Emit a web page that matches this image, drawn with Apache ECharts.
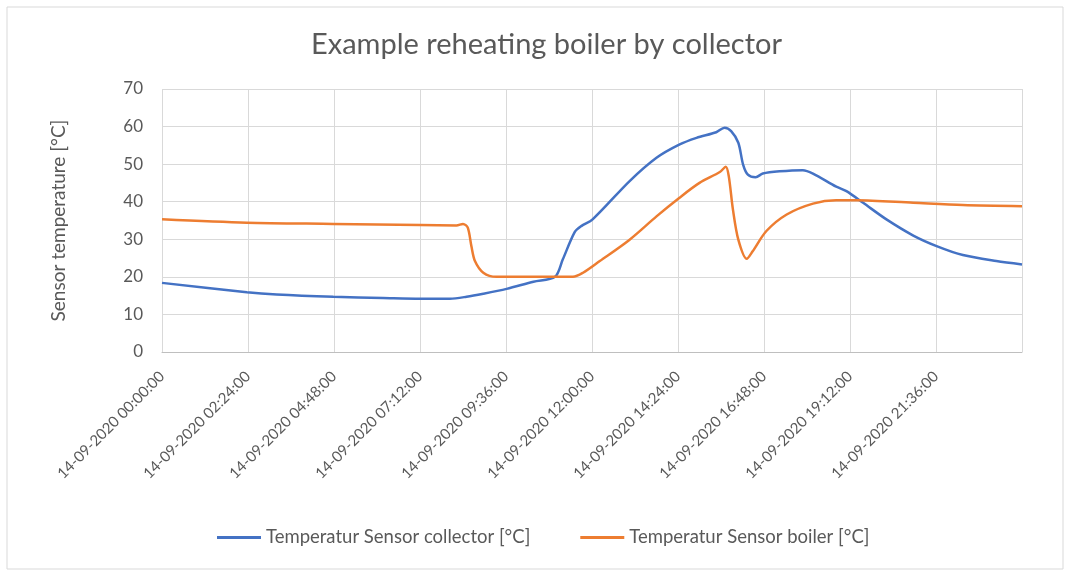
<!DOCTYPE html>
<html>
<head>
  <meta charset="utf-8">
  <title>Example reheating boiler by collector</title>
  <style>
    body { margin: 0; background: #fff; }
    #main { width: 1070px; height: 574px; }
  </style>
</head>
<body>
<div id="main"></div>
<script src="https://cdn.jsdelivr.net/npm/echarts@6/dist/echarts.min.js"></script>
<script>
// times of day (HH:MM) and temperatures
var collectorTimes = ["00:00","02:22","03:12","04:47","06:10","07:12","08:02","08:30","08:58","09:37","10:22","10:58","11:11","11:31","11:42","12:01","13:03","13:48","14:26","14:55","15:28","15:42","15:53","16:05","16:13","16:21","16:34","16:46","17:14","17:53","18:10","18:49","19:06","19:34","20:13","20:58","21:37","22:21","23:17","24:00"];
var collectorTemps = [18.4,15.9,15.3,14.7,14.4,14.2,14.2,14.7,15.5,16.8,18.7,20.0,24.6,31.9,33.5,35.3,45.5,51.7,55.2,57.0,58.5,59.7,58.8,55.7,49.9,47.2,46.5,47.5,48.1,48.4,47.5,44.0,42.8,39.7,35.3,31.0,28.2,25.8,24.2,23.3];

var boilerTimes = ["00:00","02:22","04:47","07:12","08:13","08:24","08:32","08:38","08:44","08:58","09:20","11:28","11:45","12:13","13:03","13:48","14:26","15:00","15:34","15:44","15:49","15:56","16:05","16:19","16:29","16:52","17:26","18:10","18:49","19:23","20:58","22:21","24:00"];
var boilerTemps = [35.3,34.4,34.1,33.8,33.7,34.1,33.1,28.2,24.2,21.1,20.0,20.0,21.1,24.2,29.9,36.1,41.0,45.0,47.9,49.3,46.8,37.9,29.9,24.8,26.8,32.2,36.6,39.5,40.4,40.4,39.7,39.1,38.8];

var dateLabel = "14-09-2020";

function toMinutes(t) {
  var p = t.split(":");
  return Number(p[0]) * 60 + Number(p[1]);
}
function pairs(times, temps) {
  var out = [];
  for (var i = 0; i < times.length; i++) {
    out.push([toMinutes(times[i]), temps[i]]);
  }
  return out;
}
function pad(n) { return (n < 10 ? "0" : "") + n; }

var chart = echarts.init(document.getElementById("main"));
var textColor = "#595959";
var font = "Lato, 'Noto Sans', sans-serif";

chart.setOption({
  animation: false,
  textStyle: { fontFamily: font },
  graphic: [{
    type: "rect",
    shape: { x: 7, y: 7, width: 1056, height: 562 },
    style: { fill: "none", stroke: "#d9d9d9", lineWidth: 1 }
  }],
  title: {
    text: "Example reheating boiler by collector",
    left: 306,
    top: 25,
    textStyle: { fontSize: 29, fontWeight: "normal", color: textColor, fontFamily: font }
  },
  legend: {
    bottom: 22,
    left: 212,
    icon: "rect",
    itemWidth: 44,
    itemHeight: 3,
    itemGap: 50,
    textStyle: { fontSize: 18.5, color: textColor, fontFamily: font },
    data: ["Temperatur Sensor collector [°C]", "Temperatur Sensor boiler [°C]"]
  },
  grid: { left: 162, right: 48, top: 89, bottom: 222 },
  xAxis: {
    type: "value",
    min: 0,
    max: 1440,
    interval: 144,
    axisLine: { show: true, lineStyle: { color: "#bfbfbf" } },
    axisTick: { show: false },
    splitLine: { show: true, lineStyle: { color: "#d9d9d9" } },
    axisLabel: {
      rotate: 45,
      showMaxLabel: false,
      margin: 22,
      fontSize: 15,
      color: textColor,
      formatter: function (v) {
        return dateLabel + " " + pad(Math.floor(v / 60)) + ":" + pad(v % 60) + ":00";
      }
    }
  },
  yAxis: {
    type: "value",
    min: 0,
    max: 70,
    interval: 10,
    name: "Sensor temperature [°C]",
    nameLocation: "middle",
    nameGap: 94,
    nameTextStyle: { fontSize: 19, color: textColor },
    axisLine: { show: false },
    axisTick: { show: false },
    splitLine: { lineStyle: { color: "#d9d9d9" } },
    axisLabel: { fontSize: 17, color: textColor, margin: 19 }
  },
  series: [{
    name: "Temperatur Sensor collector [°C]",
    type: "line",
    data: pairs(collectorTimes, collectorTemps),
    smooth: 0.3,
    showSymbol: false,
    lineStyle: { color: "#4472C4", width: 2.5 },
    itemStyle: { color: "#4472C4" }
  }, {
    name: "Temperatur Sensor boiler [°C]",
    type: "line",
    data: pairs(boilerTimes, boilerTemps),
    smooth: 0.3,
    showSymbol: false,
    lineStyle: { color: "#ED7D31", width: 2.5 },
    itemStyle: { color: "#ED7D31" }
  }]
});
</script>
</body>
</html>
